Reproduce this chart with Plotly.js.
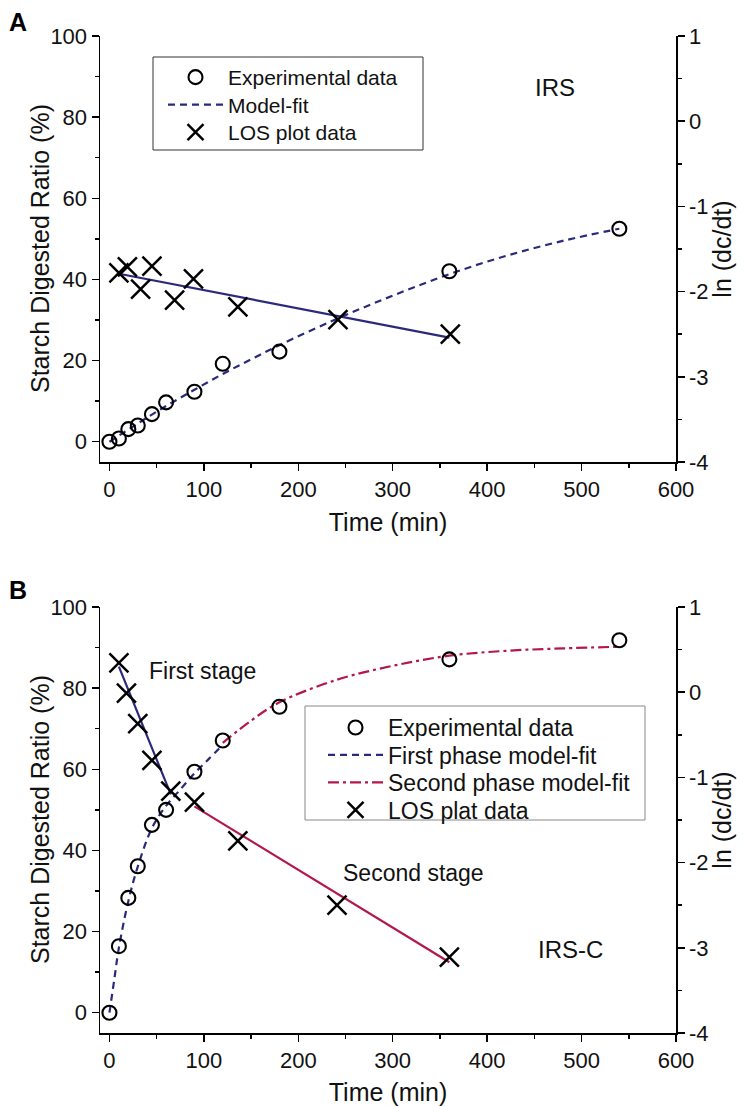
<!DOCTYPE html>
<html>
<head>
<meta charset="utf-8">
<script src="https://cdn.plot.ly/plotly-3.0.1.min.js"></script>
<style>html,body{margin:0;padding:0;background:#fff;}#chart{width:743px;height:1106px;}</style>
</head>
<body>
<div id="chart"></div>
<script>
// Panel A (IRS)
var timeExpA = [0, 10, 20, 30, 45, 60, 90, 120, 180, 360, 540];
var ratioExpA = [0, 0.8, 3.1, 4.0, 6.8, 9.7, 12.3, 19.2, 22.2, 42.0, 52.5];
var timeFitA = [0, 30, 60, 90, 120, 150, 180, 240, 300, 360, 420, 480, 540];
var ratioFitA = [0, 4.5, 8.8, 12.8, 16.7, 20.3, 23.8, 30.2, 36.0, 41.3, 45.8, 49.5, 52.5];
var timeLosA = [10, 19, 33, 45, 69, 89, 136, 242, 361];
var lnLosA = [-1.78, -1.71, -1.97, -1.70, -2.10, -1.85, -2.18, -2.33, -2.50];
var timeLineA = [10, 360];
var lnLineA = [-1.79, -2.54];

// Panel B (IRS-C)
var timeExpB = [0, 10, 20, 30, 45, 60, 90, 120, 180, 360, 540];
var ratioExpB = [0, 16.4, 28.3, 36.1, 46.3, 50.0, 59.4, 67.1, 75.4, 87.1, 91.8];
var timeFit1B = [0, 5, 10, 20, 30, 45, 60, 75, 90, 105, 120];
var ratioFit1B = [0, 8, 16, 27.5, 36, 45.5, 51, 55, 59, 62.5, 66];
var timeFit2B = [120, 150, 180, 240, 300, 360, 420, 480, 540];
var ratioFit2B = [66.5, 72, 76.5, 82, 85.5, 88, 89.2, 89.8, 90.2];
var timeLosB = [10, 18, 30, 45, 65, 90, 136, 241, 360];
var lnLosB = [0.345, -0.01, -0.37, -0.80, -1.16, -1.29, -1.745, -2.50, -3.11];
var timeLine1B = [10, 65];
var lnLine1B = [0.30, -1.20];
var timeLine2B = [90, 360];
var lnLine2B = [-1.34, -3.17];

var xTicks = [0, 100, 200, 300, 400, 500, 600];
var yTicks = [0, 20, 40, 60, 80, 100];
var lnTicks = [-4, -3, -2, -1, 0, 1];
var lnTickText = ['-4', '-3', '-2', '-1', '0', '1'];

var FONT = 'Liberation Sans, Arial, sans-serif';
var NAVY = '#2a2a7c';
var CRIMSON = '#b3174c';

function circ(x, y, name, xa, ya, leg, show) {
  return {x: x, y: y, type: 'scatter', mode: 'markers', name: name, xaxis: xa, yaxis: ya,
    legend: leg, showlegend: show,
    marker: {symbol: 'circle-open', size: 14, color: '#000', line: {width: 2.1, color: '#000'}}};
}
function cross(x, y, name, xa, ya, leg, show) {
  return {x: x, y: y, type: 'scatter', mode: 'markers', name: name, xaxis: xa, yaxis: ya,
    legend: leg, showlegend: show,
    marker: {symbol: 'x-thin-open', size: 19, color: '#000', line: {width: 2.5, color: '#000'}}};
}
function line(x, y, name, xa, ya, color, dash, leg, show, shape) {
  return {x: x, y: y, type: 'scatter', mode: 'lines', name: name, xaxis: xa, yaxis: ya,
    legend: leg, showlegend: show,
    line: {color: color, width: 2.2, dash: dash, shape: shape || 'linear'}};
}

var traces = [
  // A
  line(timeFitA, ratioFitA, 'Model-fit', 'x', 'y', NAVY, '7px,5px', 'legend', true, 'spline'),
  line(timeLineA, lnLineA, 'fit', 'x', 'y2', NAVY, 'solid', 'legend', false),
  circ(timeExpA, ratioExpA, 'Experimental data', 'x', 'y', 'legend', true),
  cross(timeLosA, lnLosA, 'LOS plot data', 'x', 'y2', 'legend', true),
  // B
  line(timeFit1B, ratioFit1B, 'First phase model-fit', 'x2', 'y3', NAVY, '7px,5px', 'legend2', true, 'spline'),
  line(timeFit2B, ratioFit2B, 'Second phase model-fit', 'x2', 'y3', CRIMSON, '11px,4px,3px,4px', 'legend2', true, 'spline'),
  line(timeLine1B, lnLine1B, 'fit1', 'x2', 'y4', NAVY, 'solid', 'legend2', false),
  line(timeLine2B, lnLine2B, 'fit2', 'x2', 'y4', CRIMSON, 'solid', 'legend2', false),
  circ(timeExpB, ratioExpB, 'Experimental data', 'x2', 'y3', 'legend2', true),
  cross(timeLosB, lnLosB, 'LOS plat data', 'x2', 'y4', 'legend2', true)
];
traces[0].legendrank = 2; traces[2].legendrank = 1; traces[3].legendrank = 3;
traces[8].legendrank = 1; traces[4].legendrank = 2; traces[5].legendrank = 3; traces[9].legendrank = 4;

var tickFont = {family: FONT, size: 22, color: '#111'};
var titleFont = {family: FONT, size: 25, color: '#111'};

function xAxis(anchor) {
  return {domain: [0, 1], anchor: anchor, range: [-10, 600], tickvals: xTicks, ticks: 'outside',
    ticklen: 7, tickwidth: 1.5, tickcolor: '#000', showline: true, linecolor: '#000', linewidth: 1.5,
    showgrid: false, zeroline: false, tickfont: tickFont,
    minor: {dtick: 50, tick0: 0, ticks: 'outside', ticklen: 4, tickwidth: 1.5, tickcolor: '#000', showgrid: false},
    title: {text: 'Time (min)', font: titleFont, standoff: 12}};
}
function yLeft(domain, anchor) {
  return {domain: domain, anchor: anchor, range: [-5, 100], tickvals: yTicks, ticks: 'outside',
    ticklen: 7, tickwidth: 1.5, tickcolor: '#000', showline: true, linecolor: '#000', linewidth: 1.5,
    showgrid: false, zeroline: false, tickfont: tickFont,
    minor: {dtick: 10, tick0: 0, ticks: 'outside', ticklen: 4, tickwidth: 1.5, tickcolor: '#000', showgrid: false}};
}
function yRight(overlay, anchor) {
  return {overlaying: overlay, anchor: anchor, side: 'right', range: [-4, 1], tickvals: lnTicks, ticktext: lnTickText,
    ticks: 'outside', ticklen: 7, tickwidth: 1.5, tickcolor: '#000', showline: true, linecolor: '#000', linewidth: 1.5,
    showgrid: false, zeroline: false, tickfont: tickFont,
    minor: {dtick: 0.5, tick0: 0, ticks: 'outside', ticklen: 4, tickwidth: 1.5, tickcolor: '#000', showgrid: false},
    title: {text: 'ln (dc/dt)', font: titleFont, standoff: 0}};
}

var domA = [(1033 - 462) / 997, 1];
var domB = [0, (1033 - 607) / 997];
function px(v) { return (v - 100) / 576; }
function py(v) { return (1033 - v) / 997; }

var layout = {
  width: 743, height: 1106,
  margin: {l: 100, r: 67, t: 36, b: 73},
  paper_bgcolor: '#fff', plot_bgcolor: '#fff',
  font: {family: FONT, color: '#111'},
  xaxis: xAxis('y'),
  yaxis: yLeft(domA, 'x'),
  yaxis2: yRight('y', 'x'),
  xaxis2: xAxis('y3'),
  yaxis3: yLeft(domB, 'x2'),
  yaxis4: yRight('y3', 'x2'),
  legend: {x: px(163), y: py(57), xanchor: 'left', yanchor: 'top',
    borderwidth: 0, bgcolor: 'rgba(0,0,0,0)', font: {family: FONT, size: 21, color: '#111'}, itemwidth: 55, tracegroupgap: 0},
  legend2: {x: px(323), y: py(706), xanchor: 'left', yanchor: 'top',
    borderwidth: 0, bgcolor: 'rgba(0,0,0,0)', font: {family: FONT, size: 23, color: '#111'}, itemwidth: 55, tracegroupgap: 0},
  shapes: [
    {type: 'rect', xref: 'paper', yref: 'paper', x0: px(153), x1: px(423), y0: py(57), y1: py(150),
      line: {color: '#333', width: 1}, fillcolor: 'rgba(0,0,0,0)', layer: 'below'},
    {type: 'rect', xref: 'paper', yref: 'paper', x0: px(305), x1: px(645), y0: py(706), y1: py(820),
      line: {color: '#888', width: 1}, fillcolor: '#fff', layer: 'below'}
  ],
  annotations: [
    {text: 'Starch Digested Ratio (%)', xref: 'paper', yref: 'paper', x: px(40), y: (domA[0] + domA[1]) / 2,
      textangle: -90, showarrow: false, font: {family: FONT, size: 25, color: '#111'}, xanchor: 'center', yanchor: 'middle'},
    {text: 'Starch Digested Ratio (%)', xref: 'paper', yref: 'paper', x: px(40), y: (domB[0] + domB[1]) / 2,
      textangle: -90, showarrow: false, font: {family: FONT, size: 25, color: '#111'}, xanchor: 'center', yanchor: 'middle'},
    {text: '<b>A</b>', xref: 'paper', yref: 'paper', x: px(18), y: py(22), showarrow: false,
      font: {family: FONT, size: 25, color: '#000'}, xanchor: 'center', yanchor: 'middle'},
    {text: '<b>B</b>', xref: 'paper', yref: 'paper', x: px(18), y: py(590), showarrow: false,
      font: {family: FONT, size: 25, color: '#000'}, xanchor: 'center', yanchor: 'middle'},
    {text: 'IRS', xref: 'paper', yref: 'paper', x: px(555), y: py(87), showarrow: false,
      font: {family: FONT, size: 24, color: '#111'}, xanchor: 'center', yanchor: 'middle'},
    {text: 'First stage', xref: 'paper', yref: 'paper', x: px(202), y: py(671), showarrow: false,
      font: {family: FONT, size: 23, color: '#111'}, xanchor: 'center', yanchor: 'middle'},
    {text: 'Second stage', xref: 'paper', yref: 'paper', x: px(413), y: py(873), showarrow: false,
      font: {family: FONT, size: 23, color: '#111'}, xanchor: 'center', yanchor: 'middle'},
    {text: 'IRS-C', xref: 'paper', yref: 'paper', x: px(570), y: py(949), showarrow: false,
      font: {family: FONT, size: 24, color: '#111'}, xanchor: 'center', yanchor: 'middle'}
  ]
};

function tightenLegends() {
  var gaps = {legend: 27.5, legend2: 27.5};
  Object.keys(gaps).forEach(function (id) {
    var g = document.querySelector('#chart .infolayer g.' + id);
    if (!g) return;
    var items = Array.prototype.slice.call(g.querySelectorAll('g.traces'));
    var parsed = items.map(function (el) {
      var m = /translate\(\s*([-\d.e]+)[ ,]+([-\d.e]+)\s*\)/.exec(el.getAttribute('transform') || '');
      return m ? {el: el, x: parseFloat(m[1]), y: parseFloat(m[2])} : null;
    }).filter(Boolean);
    parsed.sort(function (a, b) { return a.y - b.y; });
    if (!parsed.length) return;
    var y0 = parsed[0].y;
    parsed.forEach(function (p, i) {
      p.el.setAttribute('transform', 'translate(' + p.x + ',' + (y0 + i * gaps[id]) + ')');
    });
  });
}

Plotly.newPlot('chart', traces, layout, {displayModeBar: false, staticPlot: true}).then(tightenLegends);
</script>
</body>
</html>
